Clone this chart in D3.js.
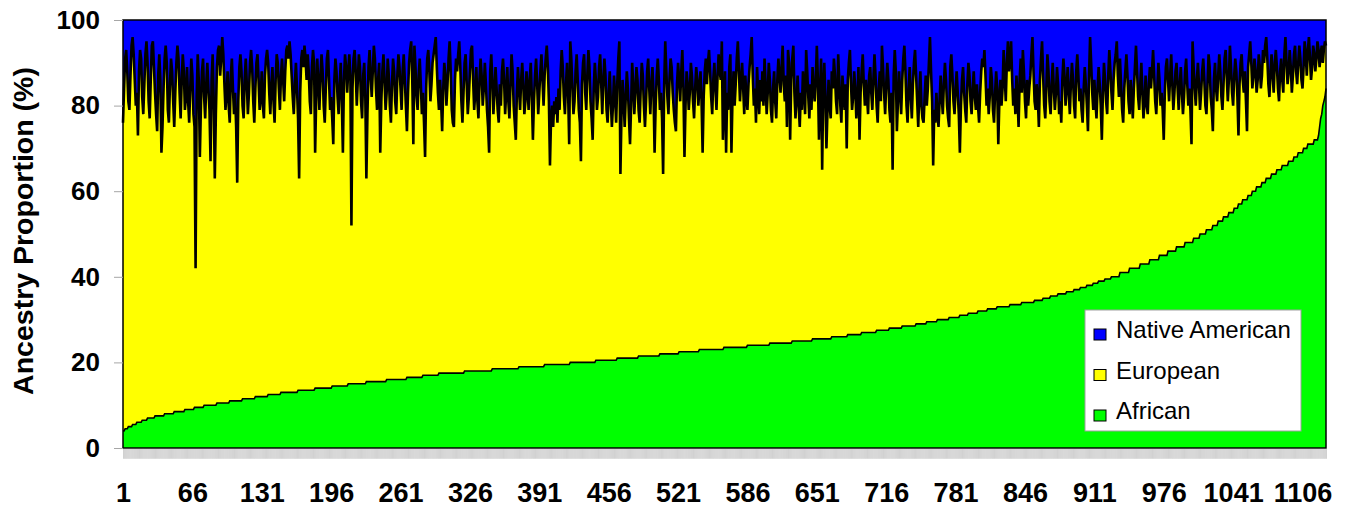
<!DOCTYPE html>
<html>
<head>
<meta charset="utf-8">
<script src="https://cdn.jsdelivr.net/npm/d3@7"></script>
<style>
  body { margin: 0; background: #fff; }
  svg { display: block; font-family: "Liberation Sans", Arial, sans-serif; }
</style>
</head>
<body>
<div id="chart"></div>
<script>
// African % (individuals sorted ascending): level and number of individuals on it
var africanLevels = [4,4.5,5,5.5,6,6.5,7,7.5,8,8.5,9,9.5,10,10.5,11,11.5,12,12.5,13,13.5,14,14.5,15,15.5,16,16.5,17,17.5,18,18.5,
  19,19.5,20,20.5,21,21.5,22,22.5,23,23.5,24,24.5,25,25.5,26,26.5,27,27.5,28,28.5,29,29.5,30,30.5,31,31.5,32,32.5,33,33.5,
  34,34.5,35,35.5,36,36.5,37,37.5,38,38.5,39,39.5,40,
  41,42,43,44,45,46,47,48,49,50,51,52,53,54,55,56,57,58,59,60,61,62,63,64,65,66,67,68,69,70,71,72,73,75,77,78,80,81,82,84];
var africanCounts = [2,3,4,4,5,5,7,9,9,10,9,9,12,12,12,12,12,12,16,16,16,15,17,19,19,15,15,24,26,25,
  24,24,24,20,20,20,18,19,23,22,21,21,19,18,15,13,14,12,12,13,10,10,11,10,8,9,9,9,12,11,
  12,8,7,7,8,7,6,6,6,5,6,6,8,
  9,10,9,9,8,8,8,8,6,6,6,5,5,5,5,4,4,5,4,4,5,4,5,5,5,6,5,4,5,4,6,4,1,1,1,1,1,1,1,1];

// Native American % per individual, same order (50 per line)
var nativeAmerican = [
  24,16,9,7,12,19,21,13,6,4,8,14,20,17,27,12,7,9,18,22,15,8,5,10,19,23,14,6,5,11,17,22,26,13,8,14,31,25,16,9,6,10,21,24,15,9,12,19,25,17,
  10,6,9,17,23,14,8,12,21,18,11,19,24,16,9,13,22,25,58,18,8,14,32,20,12,9,18,23,15,10,16,21,33,14,8,19,37,22,11,7,6,13,9,4,8,15,21,17,12,20,
  24,13,9,16,22,17,25,38,19,11,8,12,20,23,14,9,15,22,17,10,7,11,19,24,16,10,8,14,21,18,12,20,23,13,9,7,10,17,22,15,11,19,24,14,8,10,16,21,13,9,
  14,19,12,7,6,9,5,8,13,18,22,15,10,16,23,37,17,9,7,11,6,9,14,8,12,19,22,11,7,10,31,18,9,15,21,13,8,12,20,24,16,9,7,14,21,18,23,29,14,9,
  12,18,22,15,10,19,31,14,8,11,17,12,8,13,48,16,9,7,12,20,14,8,11,19,23,13,10,18,37,22,11,7,13,18,12,6,9,16,21,14,10,31,19,12,8,14,21,17,9,13,
  20,24,15,9,12,19,22,13,8,11,16,21,12,8,14,20,26,17,10,7,5,14,29,6,11,18,21,13,9,15,22,17,24,32,16,9,7,12,19,15,10,8,6,4,11,17,21,14,19,26,
  16,10,13,20,15,9,5,12,21,24,25,14,9,12,8,5,11,19,24,17,10,8,15,22,18,12,7,6,14,21,17,11,19,23,14,9,13,20,16,10,15,21,25,31,12,8,14,22,17,11,
  16,21,24,15,20,12,9,14,22,17,11,19,23,15,8,12,20,24,28,17,11,16,21,14,10,15,22,19,12,16,21,14,10,18,28,19,13,9,15,22,17,12,8,14,20,13,9,6,11,19,
  34,23,20,25,19,22,18,24,16,21,12,7,11,18,22,15,10,17,29,5,9,16,22,19,12,8,14,21,24,33,15,10,8,17,21,13,7,11,19,23,28,16,10,14,21,18,11,8,15,22,
  14,9,13,21,24,17,12,19,25,20,13,18,24,15,9,5,36,22,14,19,25,18,12,16,23,29,20,10,15,22,17,11,14,21,24,16,10,13,20,25,19,12,9,16,22,15,11,17,31,20,
  13,9,14,21,17,23,36,15,5,12,18,22,14,9,11,17,21,24,26,15,10,14,19,12,7,16,32,20,12,15,21,17,10,13,19,23,16,11,14,20,16,12,19,31,18,12,9,15,10,7,
  12,18,22,14,10,16,21,13,8,12,14,5,28,19,12,31,17,21,11,8,31,18,12,20,15,9,5,12,19,14,10,16,22,13,18,21,15,11,8,4,13,20,16,24,11,17,22,14,19,12,
  20,9,15,22,17,10,14,21,24,16,12,19,23,14,9,13,17,11,6,15,19,13,25,7,10,28,14,9,6,17,23,18,13,20,25,17,21,12,16,22,7,12,18,23,15,21,11,16,19,14,
  6,14,28,17,9,35,16,10,18,30,21,14,20,23,12,16,9,13,19,22,8,14,20,24,13,17,21,15,30,14,10,7,15,21,18,12,16,23,19,11,28,17,12,8,15,20,14,18,22,13,
  11,17,21,14,8,13,20,24,16,12,19,6,11,17,22,15,10,14,21,24,17,35,13,7,12,26,19,12,17,22,14,9,6,12,20,24,16,11,18,23,15,10,7,13,19,25,17,12,20,23,
  24,18,13,20,16,10,4,12,19,34,21,24,17,22,25,19,13,18,22,15,10,14,20,23,25,11,8,13,19,22,16,12,17,22,31,20,14,11,17,21,24,15,10,13,19,22,16,12,18,21,
  15,20,24,17,12,9,11,7,13,20,16,22,18,11,14,21,24,17,12,16,29,19,14,20,16,7,13,19,10,5,12,9,5,14,20,16,22,13,18,25,14,9,17,7,12,19,23,14,20,16,
  13,8,4,12,19,21,15,18,25,14,9,5,13,20,23,16,8,12,19,22,15,10,16,21,17,11,15,22,19,24,14,9,13,20,16,11,17,22,15,10,14,20,23,12,8,13,19,16,21,24,
  16,11,15,20,26,13,4,10,17,21,14,19,23,16,11,15,20,28,17,10,14,19,22,13,7,12,17,21,14,10,8,5,13,18,9,15,21,24,16,12,8,13,19,22,14,18,23,16,11,6,
  12,18,21,15,10,17,23,19,13,20,22,15,11,16,12,7,13,19,22,16,10,14,20,17,21,28,17,11,9,14,19,13,8,15,21,17,12,10,16,21,15,11,17,22,18,12,9,15,20,16,
  21,29,5,11,16,20,14,10,15,21,17,12,9,14,20,22,15,8,11,18,21,26,14,10,16,19,13,8,12,18,21,15,9,7,13,19,14,6,11,17,20,13,9,12,18,27,15,10,8,14,
  17,12,19,26,11,8,5,10,16,13,9,12,17,14,8,11,16,13,7,10,6,4,9,15,18,12,8,13,17,10,7,11,16,19,12,9,14,17,8,4,10,15,12,7,11,17,13,8,6,12,
  15,10,6,9,14,16,11,5,8,13,7,4,9,14,11,6,8,12,9,5,7,11,8,6,10,7,5,6
];

var seriesKeys = ["african", "european", "native"];
var seriesNames = ["African", "European", "Native American"];
var seriesColors = ["#00ff00", "#ffff00", "#0000ff"];
var yTicks = [0, 20, 40, 60, 80, 100];
var xLabelStep = 65;

var width = 1355, height = 513;
var m = {top: 20, right: 29, bottom: 65, left: 123};

// expand the sorted African levels into one value per individual
var african = [];
africanLevels.forEach(function(v, i) {
  for (var k = 0; k < africanCounts[i]; k++) african.push(v);
});

var N = nativeAmerican.length;
var rows = d3.range(N).map(function(i) {
  return {
    ind: i + 1,
    african: african[i],
    native: nativeAmerican[i],
    european: 100 - african[i] - nativeAmerican[i]
  };
});

var svg = d3.select("#chart").append("svg")
  .attr("width", width)
  .attr("height", height);

svg.append("rect").attr("width", width).attr("height", height).attr("fill", "#fff");

var x = d3.scaleLinear().domain([1, N]).range([m.left, width - m.right]);
var y = d3.scaleLinear().domain([0, 100]).range([height - m.bottom, m.top]);

var layers = d3.stack().keys(seriesKeys)(rows);

var area = d3.area()
  .x(function(d) { return x(d.data.ind); })
  .y0(function(d) { return y(d[0]); })
  .y1(function(d) { return y(d[1]); });

var topLine = d3.line()
  .x(function(d) { return x(d.data.ind); })
  .y(function(d) { return y(d[1]); });

svg.append("g").selectAll("path")
  .data(layers)
  .enter().append("path")
  .attr("fill", function(d, i) { return seriesColors[i]; })
  .attr("d", area);

// African / European border
svg.append("path")
  .attr("fill", "none")
  .attr("stroke", "#000")
  .attr("stroke-width", 1.6)
  .attr("d", topLine(layers[0]));

// European / Native American border
svg.append("path")
  .attr("fill", "none")
  .attr("stroke", "#000")
  .attr("stroke-width", 2.6)
  .attr("d", topLine(layers[1]));

// plot frame
svg.append("rect")
  .attr("x", x(1)).attr("y", y(100))
  .attr("width", x(N) - x(1)).attr("height", y(0) - y(100))
  .attr("fill", "none")
  .attr("stroke", "#000")
  .attr("stroke-width", 1.5);

// category tick marks, one per individual
var xTicks = svg.append("g")
  .attr("transform", "translate(0," + (y(0) + 0.8) + ")")
  .call(d3.axisBottom(x).tickValues(d3.range(1, N + 1)).tickSize(10).tickFormat(""));
xTicks.select(".domain").remove();
xTicks.selectAll("line").attr("stroke", "#999").attr("stroke-width", 0.45);

var xLabels = svg.append("g")
  .attr("transform", "translate(0," + y(0) + ")")
  .call(d3.axisBottom(x).tickValues(d3.range(1, N + 1, xLabelStep))
    .tickFormat(d3.format("d")).tickSize(0).tickPadding(35));
xLabels.select(".domain").remove();
xLabels.selectAll("text")
  .attr("fill", "#000")
  .style("font-size", "27px")
  .style("font-weight", "bold")
  .style("font-family", "'Liberation Sans', Arial, sans-serif");

var yAxis = svg.append("g")
  .attr("transform", "translate(" + x(1) + ",0)")
  .call(d3.axisLeft(y).tickValues(yTicks).tickSize(9).tickPadding(14));
yAxis.select(".domain").remove();
yAxis.selectAll("line").attr("stroke", "#a6a6a6");
yAxis.selectAll("text")
  .attr("fill", "#000")
  .style("font-size", "26px")
  .style("font-weight", "bold")
  .style("font-family", "'Liberation Sans', Arial, sans-serif");

svg.append("text")
  .attr("transform", "translate(33," + ((y(0) + y(100)) / 2 - 3) + ") rotate(-90)")
  .attr("text-anchor", "middle")
  .style("font-size", "28.5px")
  .style("font-weight", "bold")
  .text("Ancestry Proportion (%)");

// legend
var legend = svg.append("g").attr("transform", "translate(1085,310)");
legend.append("rect")
  .attr("width", 216).attr("height", 121)
  .attr("fill", "#fff")
  .attr("stroke", "#a0a0a0")
  .attr("stroke-width", 1);

var legendOrder = [2, 1, 0];
var item = legend.selectAll("g.item")
  .data(legendOrder)
  .enter().append("g")
  .attr("class", "item")
  .attr("transform", function(d, i) { return "translate(0," + (28 + i * 40.5) + ")"; });

item.append("rect")
  .attr("x", 9).attr("y", -9)
  .attr("width", 12).attr("height", 11)
  .attr("fill", function(d) { return seriesColors[d]; })
  .attr("stroke", "#000")
  .attr("stroke-width", 1);

item.append("text")
  .attr("x", 31)
  .attr("y", 0)
  .style("font-size", "24px")
  .text(function(d) { return seriesNames[d]; });
</script>
</body>
</html>
